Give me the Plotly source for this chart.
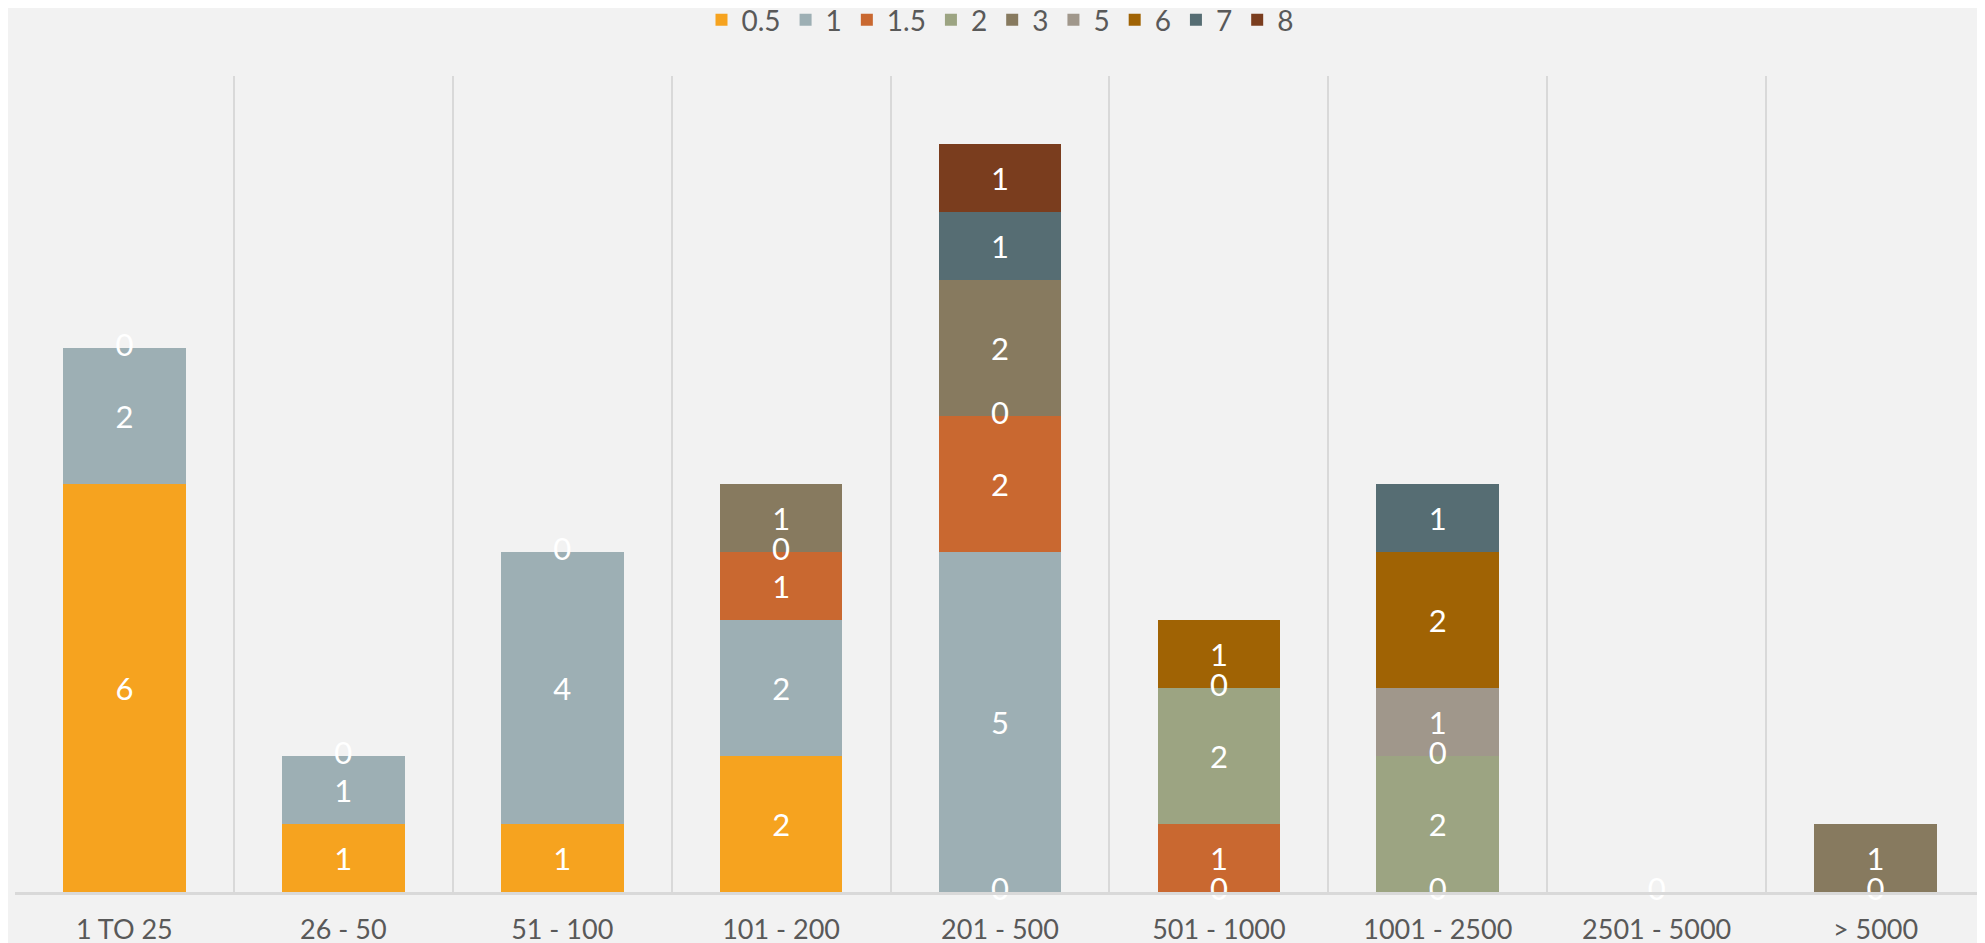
import plotly.graph_objects as go

categories = ["1 TO 25", "26 - 50", "51 - 100", "101 - 200", "201 - 500",
              "501 - 1000", "1001 - 2500", "2501 - 5000", "> 5000"]

series_names = ["0.5", "1", "1.5", "2", "3", "5", "6", "7", "8"]

s_05 = [6, 1, 1, 2, 0, 0, 0, 0, 0]
s_1 = [2, 1, 4, 2, 5, None, None, None, None]
s_15 = [0, 0, 0, 1, 2, 1, None, None, None]
s_2 = [None, None, None, 0, 0, 2, 2, None, None]
s_3 = [None, None, None, 1, 2, 0, 0, None, 1]
s_5 = [None, None, None, None, None, None, 1, None, None]
s_6 = [None, None, None, None, None, 1, 2, None, None]
s_7 = [None, None, None, None, 1, None, 1, None, None]
s_8 = [None, None, None, None, 1, None, None, None, None]

colors = ["#F6A31F", "#9DAFB4", "#C96830", "#9CA482", "#877A5F",
          "#A0978B", "#A06304", "#566D73", "#7A3D1E"]

all_series = [s_05, s_1, s_15, s_2, s_3, s_5, s_6, s_7, s_8]

FONT = "Lato, 'Open Sans', sans-serif"

fig = go.Figure()

for name, vals, col in zip(series_names, all_series, colors):
    fig.add_trace(go.Bar(
        x=categories, y=[v if v else None for v in vals], name=name,
        marker=dict(color=col, line=dict(width=0)),
        text=[str(v) if v else "" for v in vals],
        textposition="inside", insidetextanchor="middle",
        textfont=dict(color="white", size=31, family=FONT),
        hoverinfo="skip",
    ))

# zero labels sit at the top of the stack so far
zx, zy = [], []
for i, c in enumerate(categories):
    base = 0
    for vals in all_series:
        v = vals[i]
        if v is None:
            continue
        if v == 0:
            zx.append(c)
            zy.append(base)
        base += v
fig.add_trace(go.Scatter(
    x=zx, y=zy, mode="text", text=["0"] * len(zx),
    textfont=dict(color="white", size=31, family=FONT),
    showlegend=False, hoverinfo="skip", cliponaxis=False,
))

fig.update_layout(
    barmode="stack",
    bargap=0.44,
    width=1977, height=935,
    paper_bgcolor="#F2F2F2", plot_bgcolor="#F2F2F2",
    margin=dict(l=7, r=0, t=68, b=51, autoexpand=False),
    font=dict(family=FONT, color="#595959"),
    legend=dict(orientation="h", x=0.5, xanchor="center", y=1.0686, yanchor="middle",
                font=dict(size=28, color="#595959"), traceorder="normal",
                itemwidth=30, bgcolor="rgba(0,0,0,0)"),
    showlegend=True,
)
fig.update_xaxes(type="category", tickson="boundaries", showgrid=True,
                 gridcolor="#D9D9D9", gridwidth=2, ticks="",
                 showline=True, linecolor="#D9D9D9", linewidth=3,
                 tickfont=dict(size=27, color="#595959"), ticklabelstandoff=12)
fig.update_yaxes(range=[0, 12], showgrid=False, zeroline=False,
                 showticklabels=False, showline=False)

fig.write_html("out.html")
